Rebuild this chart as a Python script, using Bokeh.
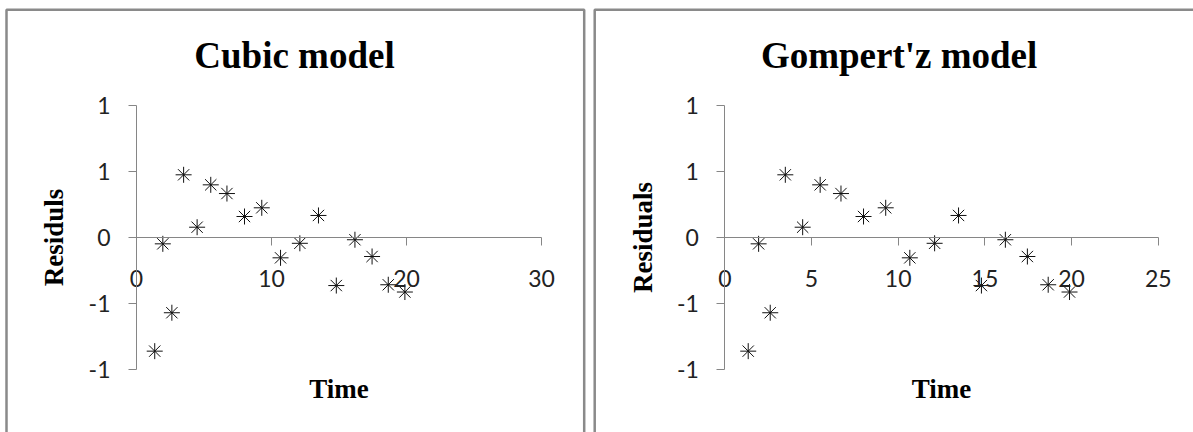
import math

from bokeh.embed import file_html
from bokeh.layouts import row
from bokeh.models import BoxAnnotation, FixedTicker, Label, LinearAxis
from bokeh.plotting import figure
from bokeh.resources import INLINE

# ---- data -------------------------------------------------------------
time = [1.35, 1.95, 2.62, 3.49, 4.49, 5.5, 6.7, 8.0, 9.28,
        10.67, 12.1, 13.48, 14.8, 16.18, 17.45, 18.65, 19.88]

cubic_residuals = [-0.861, -0.048, -0.570, 0.475, 0.078, 0.399, 0.333, 0.159, 0.225,
                   -0.154, -0.044, 0.167, -0.364, -0.017, -0.144, -0.358, -0.413]

gompertz_residuals = [-0.861, -0.048, -0.570, 0.475, 0.078, 0.399, 0.333, 0.159, 0.225,
                      -0.154, -0.044, 0.167, -0.364, -0.017, -0.144, -0.358, -0.413]

cubic_x_ticks = [0, 10, 20, 30]
gompertz_x_ticks = [0, 5, 10, 15, 20, 25]
y_ticks = [-1, -0.5, 0, 0.5, 1]
y_tick_labels = ["-1", "-1", "0", "1", "1"]

# ---- styling ----------------------------------------------------------
HEIGHT = 432
AXIS_GREY = "#868686"
BORDER_GREY = "#8a8a8a"
TICK_FONT = "Lato"
SERIF = "Liberation Serif"


def make_panel(title, ylabel, xs, ys, x_ticks, width, origin_px, x_scale,
               border_left, border_right, title_cx):
    """One chart panel; the frame fills the whole canvas so that the
    axes can cross at the origin."""
    y0_px = 237.0       # pixel row of residual = 0
    y_scale = 132.0     # pixels per residual unit

    def dx(px):
        return (px - origin_px) / x_scale

    def dy(py):
        return (y0_px - py) / y_scale

    p = figure(
        width=width, height=HEIGHT,
        x_range=(dx(0), dx(width)), y_range=(dy(HEIGHT), dy(0)),
        x_axis_location=None, y_axis_location=None,
        toolbar_location=None, output_backend="svg",
        min_border=0, title=None,
        outline_line_color=None,
        background_fill_color="white", border_fill_color="white",
    )
    p.xgrid.grid_line_color = None
    p.ygrid.grid_line_color = None

    xaxis = LinearAxis(
        fixed_location=0, bounds=(x_ticks[0], x_ticks[-1]),
        ticker=FixedTicker(ticks=x_ticks),
        axis_line_color=AXIS_GREY, major_tick_line_color=AXIS_GREY,
        major_tick_out=8, major_tick_in=0, minor_tick_line_color=None,
        major_label_standoff=24,
        major_label_text_font=TICK_FONT, major_label_text_font_size="23px",
        major_label_text_color="#222222",
    )
    p.add_layout(xaxis, "below")

    yaxis = LinearAxis(
        fixed_location=0, bounds=(y_ticks[0], y_ticks[-1]),
        ticker=FixedTicker(ticks=y_ticks),
        major_label_overrides={float(t): s for t, s in zip(y_ticks, y_tick_labels)},
        axis_line_color=AXIS_GREY, major_tick_line_color=AXIS_GREY,
        major_tick_out=8, major_tick_in=0, minor_tick_line_color=None,
        major_label_standoff=18,
        major_label_text_font=TICK_FONT, major_label_text_font_size="23px",
        major_label_text_color="#222222",
    )
    p.add_layout(yaxis, "left")

    p.scatter(xs, ys, marker="asterisk", size=16,
              line_color="#111111", line_width=1)

    # panel border (open at the bottom edge of the page)
    p.add_layout(BoxAnnotation(
        left=dx(border_left), right=dx(border_right),
        top=dy(9.2), bottom=dy(HEIGHT + 80),
        fill_color=None, fill_alpha=0,
        line_color=BORDER_GREY, line_alpha=1.0, line_width=2.5,
    ))

    p.add_layout(Label(
        x=dx(title_cx), y=dy(55), text=title,
        text_font=SERIF, text_font_style="bold", text_font_size="37px",
        text_align="center", text_baseline="alphabetic", text_color="black",
    ))
    p.add_layout(Label(
        x=(x_ticks[0] + x_ticks[-1]) / 2, y=dy(388), text="Time",
        text_font=SERIF, text_font_style="bold", text_font_size="27px",
        text_align="center", text_baseline="alphabetic", text_color="black",
    ))
    p.add_layout(Label(
        x=dx(53.5), y=0, text=ylabel, angle=math.pi / 2, angle_units="rad",
        text_font=SERIF, text_font_style="bold", text_font_size="27px",
        text_align="center", text_baseline="alphabetic", text_color="black",
    ))
    return p


left = make_panel("Cubic model", "Residuls", time, cubic_residuals,
                  cubic_x_ticks, width=589, origin_px=136.0, x_scale=13.5,
                  border_left=6.0, border_right=583.7, title_cx=294.0)

right = make_panel("Gompert'z model", "Residuals", time, gompertz_residuals,
                   gompertz_x_ticks, width=604, origin_px=135.3, x_scale=17.34,
                   border_left=5.2, border_right=604 + 60, title_cx=309.6)

layout = row(left, right)

with open("out.html", "w") as f:
    f.write(file_html(layout, INLINE))
